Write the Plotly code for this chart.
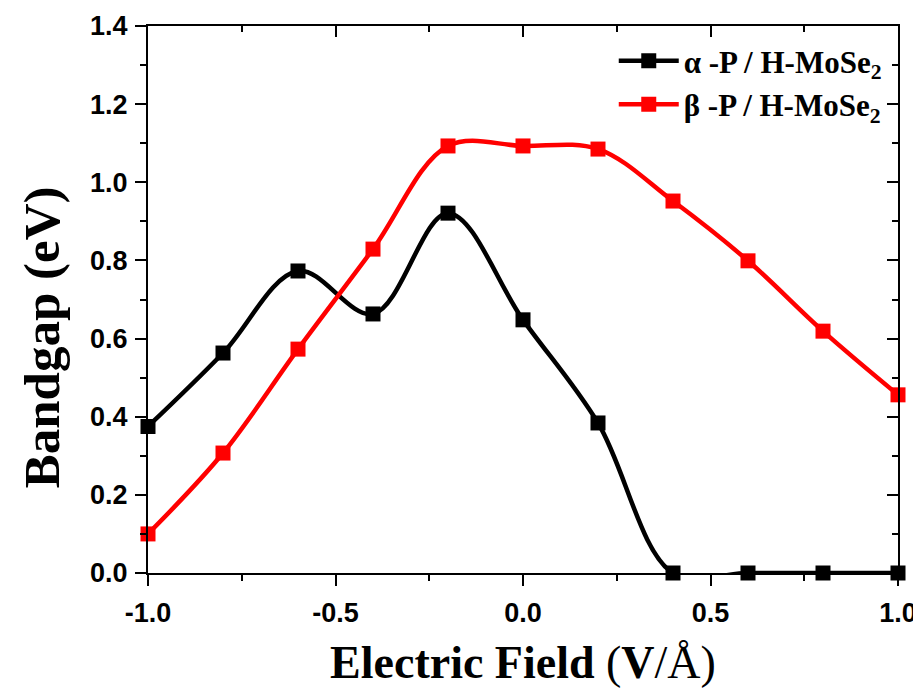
import plotly.graph_objects as go

field = [-1.0, -0.8, -0.6, -0.4, -0.2, 0.0, 0.2, 0.4, 0.6, 0.8, 1.0]
alpha_gap = [0.375, 0.563, 0.773, 0.663, 0.921, 0.648, 0.384, 0.0, 0.0, 0.0, 0.0]
beta_gap = [0.100, 0.307, 0.573, 0.829, 1.093, 1.093, 1.085, 0.952, 0.799, 0.619, 0.456]
names = ["α -P / H-MoSe<sub>2</sub>", "β -P / H-MoSe<sub>2</sub>"]
colors = ["#000000", "#ff0000"]
x_tickvals = [-1.0, -0.5, 0.0, 0.5, 1.0]
x_ticktext = ["-1.0", "-0.5", "0.0", "0.5", "1.0"]
y_tickvals = [0.0, 0.2, 0.4, 0.6, 0.8, 1.0, 1.2, 1.4]
y_ticktext = ["0.0", "0.2", "0.4", "0.6", "0.8", "1.0", "1.2", "1.4"]

fig = go.Figure()
for y, name, c in zip([alpha_gap, beta_gap], names, colors):
    fig.add_trace(go.Scatter(
        x=field, y=y, name=name, mode="lines+markers",
        line=dict(color=c, width=4.5, shape="spline", smoothing=1.0),
        marker=dict(symbol="square", size=15, color=c),
        cliponaxis=False,
    ))
# helper trace for mirrored axes (top/right with inward ticks)
fig.add_trace(go.Scatter(x=[], y=[], xaxis="x2", yaxis="y2", showlegend=False, hoverinfo="skip"))

tickfont = dict(family="Liberation Sans", size=27, color="#000", weight="bold")
xtitlefont = dict(family="Liberation Serif", size=46, color="#000", weight="bold")
ytitlefont = dict(family="Liberation Serif", size=51, color="#000", weight="bold")

common = dict(showline=True, linecolor="#000", linewidth=2, showgrid=False, zeroline=False,
              ticklen=11, tickwidth=2, tickcolor="#000", automargin=False)
nw = "<span style='font-weight:normal'>"

fig.update_layout(
    width=913, height=687,
    margin=dict(l=140, r=23, t=18, b=122, autoexpand=False),
    paper_bgcolor="white", plot_bgcolor="white",
    xaxis=dict(range=[-1, 1], tickmode="array", tickvals=x_tickvals, ticktext=x_ticktext,
               ticks="outside", tickfont=tickfont, ticklabelstandoff=4,
               title=dict(text="Electric Field " + nw + "(</span>V" + nw + "/Å)</span>",
                          font=xtitlefont, standoff=18),
               minor=dict(ticks="outside", ticklen=6, tickwidth=2, tickcolor="#000", dtick=0.25, tick0=-1),
               **common),
    yaxis=dict(range=[0, 1.4], tickmode="array", tickvals=y_tickvals, ticktext=y_ticktext,
               ticks="outside", tickfont=tickfont, ticklabelstandoff=2,
               minor=dict(ticks="outside", ticklen=6, tickwidth=2, tickcolor="#000", dtick=0.1, tick0=0),
               **common),
    xaxis2=dict(range=[-1, 1], tickmode="array", tickvals=x_tickvals, overlaying="x", side="top",
                anchor="y2", ticks="inside", showticklabels=False,
                minor=dict(ticks="inside", ticklen=6, tickwidth=2, tickcolor="#000", dtick=0.25, tick0=-1),
                **common),
    yaxis2=dict(range=[0, 1.4], tickmode="array", tickvals=y_tickvals, overlaying="y", side="right",
                anchor="x2", ticks="inside", showticklabels=False,
                minor=dict(ticks="inside", ticklen=6, tickwidth=2, tickcolor="#000", dtick=0.1, tick0=0),
                **common),
    legend=dict(x=0.985, y=0.985, xanchor="right", yanchor="top", bgcolor="rgba(0,0,0,0)",
                font=dict(family="Liberation Serif", size=31, color="#000", weight="bold"),
                itemwidth=60, tracegroupgap=0),
    showlegend=True,
    annotations=[dict(text="Bandgap (eV)", textangle=-90, font=ytitlefont, showarrow=False,
                      xref="paper", yref="paper", x=-0.142, y=0.43,
                      xanchor="center", yanchor="middle")],
)

fig.write_html("out.html")
